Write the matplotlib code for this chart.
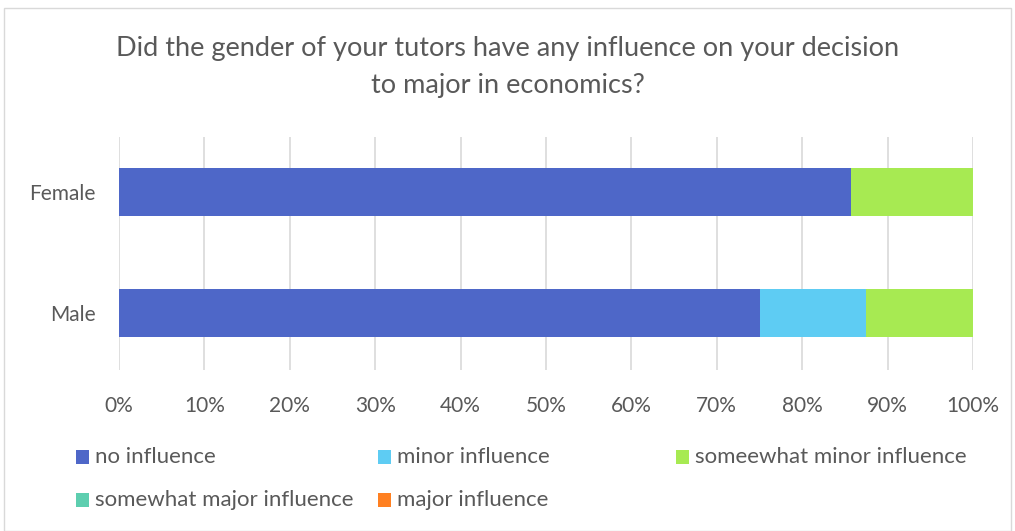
import matplotlib
matplotlib.use("Agg")
import matplotlib.pyplot as plt
from matplotlib.patches import Rectangle

plt.rcParams['font.family'] = ['Lato', 'DejaVu Sans']

groups = ["Male", "Female"]
series = ["no influence", "minor influence", "someewhat minor influence",
          "somewhat major influence", "major influence"]
values = {
    "no influence": [75.0, 85.7],
    "minor influence": [12.5, 0.0],
    "someewhat minor influence": [12.5, 14.3],
    "somewhat major influence": [0.0, 0.0],
    "major influence": [0.0, 0.0],
}
colors = ["#4E67C8", "#5ECCF3", "#A7EA52", "#5DCEAF", "#FF8021"]
xticks = [0, 10, 20, 30, 40, 50, 60, 70, 80, 90, 100]
xticklabels = [f"{t}%" for t in xticks]
title = "Did the gender of your tutors have any influence on your decision\nto major in economics?"

W, H = 1015, 531
fig = plt.figure(figsize=(W / 100, H / 100), dpi=100)
fig.patch.set_facecolor("white")
fig.add_artist(Rectangle((4 / W, 0), (W - 8) / W, (H - 8) / H, transform=fig.transFigure,
                         fill=False, edgecolor="#D9D9D9", linewidth=1))

ax = fig.add_axes([119 / W, 1 - 370 / H, (973 - 119) / W, (370 - 137) / H])
text_color = "#595959"

left = [0.0, 0.0]
for name, col in zip(series, colors):
    vals = values[name]
    ax.barh(range(len(groups)), vals, left=left, height=0.4, color=col, zorder=3)
    left = [l + v for l, v in zip(left, vals)]

ax.set_xlim(0, 100)
ax.set_ylim(-0.47, 1.455)
ax.set_xticks(xticks)
ax.set_xticklabels(xticklabels)
ax.set_yticks(range(len(groups)))
ax.set_yticklabels(groups)
ax.tick_params(axis="both", length=0, colors=text_color, labelsize=15)
ax.tick_params(axis="x", pad=19)
ax.tick_params(axis="y", pad=17)
ax.grid(axis="x", color="#D9D9D9", linewidth=1.2, zorder=0)
for s in ax.spines.values():
    s.set_visible(False)

fig.text(0.5, 1 - 67 / H, title, ha="center", va="center", fontsize=19.5,
         color=text_color, linespacing=1.6)

# legend laid out in rows
legend_pos = [(76, 457), (378, 457), (676, 457), (76, 500), (378, 500)]
for name, col, (px, py) in zip(series, colors, legend_pos):
    fig.add_artist(Rectangle((px / W, 1 - (py + 7) / H), 13 / W, 14 / H,
                             transform=fig.transFigure, facecolor=col, edgecolor="none"))
    fig.text((px + 19) / W, 1 - py / H, name, ha="left", va="center",
             fontsize=16, color=text_color)

fig.savefig("out.png", dpi=100)
